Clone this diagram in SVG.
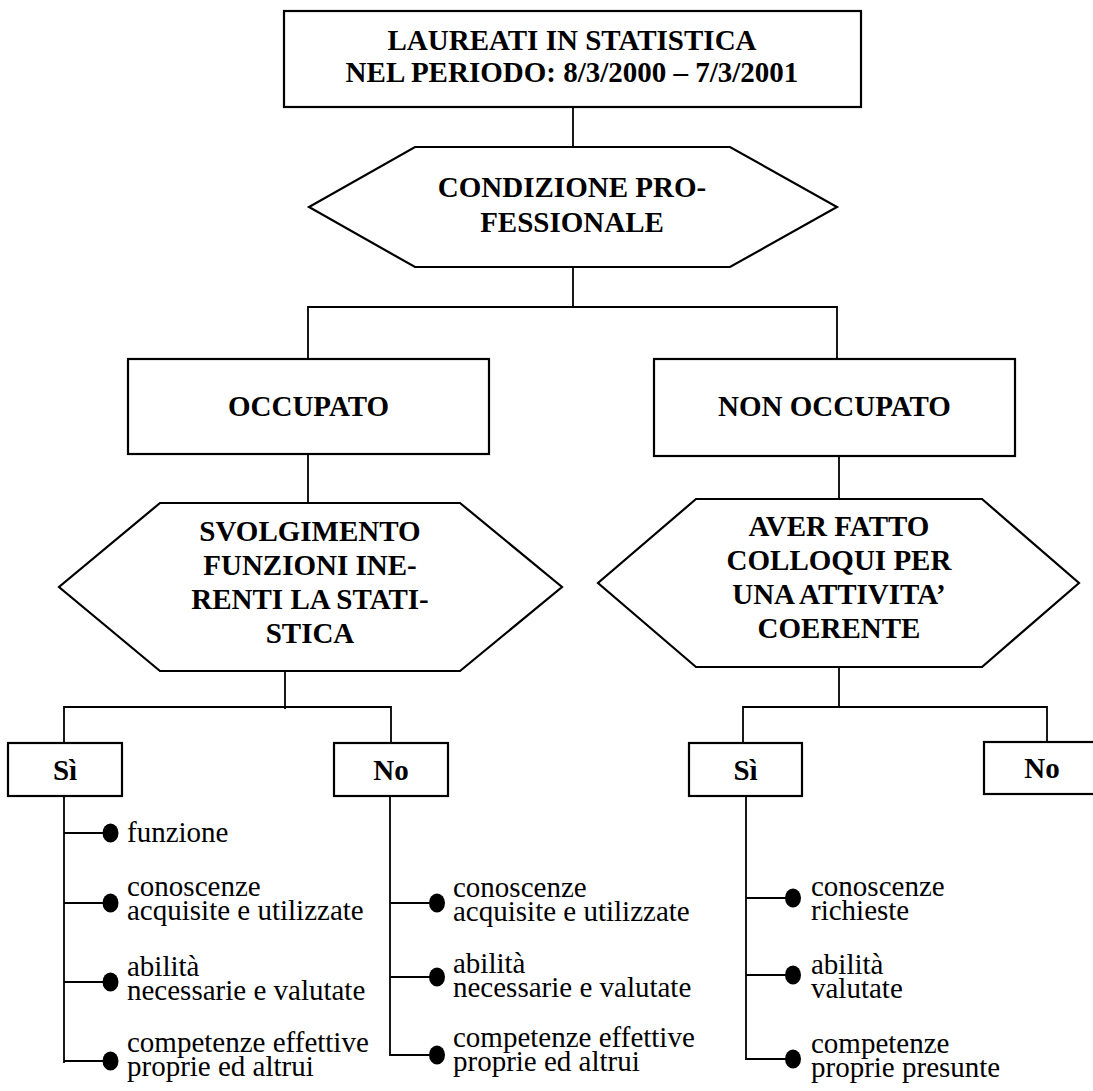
<svg xmlns="http://www.w3.org/2000/svg" width="1093" height="1091" viewBox="0 0 1093 1091">
<style>
.shape{fill:#fff;stroke:#000;stroke-width:2.2}
.conn line,.conn polyline{stroke:#000;stroke-width:1.8;fill:none}
.h{font-family:"Liberation Serif","Times New Roman",serif;font-weight:bold;font-size:29px;text-anchor:middle;fill:#000}
.t{font-family:"Liberation Serif","Times New Roman",serif;font-size:29px;fill:#000}
.dot{fill:#000}
</style>
<rect x="0" y="0" width="1093" height="1091" fill="#fff"/>
<g id="connectors" class="conn">
<line x1="573" y1="107" x2="573" y2="147"/>
<line x1="573" y1="267" x2="573" y2="307"/>
<polyline points="308,359 308,307 837,307 837,359"/>
<line x1="308" y1="454" x2="308" y2="503"/>
<line x1="839" y1="456" x2="839" y2="499"/>
<line x1="285" y1="671" x2="285" y2="709"/>
<polyline points="64,743 64,707 391,707 391,743"/>
<line x1="839" y1="667" x2="839" y2="707"/>
<polyline points="743,743 743,707 1047,707 1047,742"/>
<line x1="64" y1="796" x2="64" y2="1063"/>
<line x1="64" y1="833" x2="106" y2="833"/>
<line x1="64" y1="903" x2="106" y2="903"/>
<line x1="64" y1="982" x2="106" y2="982"/>
<line x1="64" y1="1061" x2="106" y2="1061"/>
<polyline points="390,796 390,1055 433,1055"/>
<line x1="390" y1="903" x2="433" y2="903"/>
<line x1="390" y1="977" x2="433" y2="977"/>
<polyline points="746,796 746,1059 789,1059"/>
<line x1="746" y1="898" x2="789" y2="898"/>
<line x1="746" y1="975" x2="789" y2="975"/>
</g>
<g id="n-laureati">
<rect class="shape" x="284" y="11" width="577" height="96"/>
<text class="h" x="572" y="50">LAUREATI IN STATISTICA</text>
<text class="h" x="572" y="82">NEL PERIODO: 8/3/2000 – 7/3/2001</text>
</g>
<g id="n-condizione">
<polygon class="shape" points="415,147 730,147 837,207 730,267 415,267 309,207"/>
<text class="h" x="572" y="197">CONDIZIONE PRO-</text>
<text class="h" x="572" y="232">FESSIONALE</text>
</g>
<g id="n-occupato">
<rect class="shape" x="128" y="359" width="361" height="95"/>
<text class="h" x="308.5" y="416">OCCUPATO</text>
</g>
<g id="n-nonoccupato">
<rect class="shape" x="654" y="359" width="361" height="97"/>
<text class="h" x="834.5" y="416">NON OCCUPATO</text>
</g>
<g id="n-svolgimento">
<polygon class="shape" points="160,503 460,503 562,587 460,671 160,671 59,587"/>
<text class="h" x="310" y="541">SVOLGIMENTO</text>
<text class="h" x="310" y="575">FUNZIONI INE-</text>
<text class="h" x="310" y="609">RENTI LA STATI-</text>
<text class="h" x="310" y="643">STICA</text>
</g>
<g id="n-colloqui">
<polygon class="shape" points="696,499 982,499 1079,583 982,667 696,667 598,583"/>
<text class="h" x="839" y="536">AVER FATTO</text>
<text class="h" x="839" y="570">COLLOQUI PER</text>
<text class="h" x="839" y="604">UNA ATTIVITA’</text>
<text class="h" x="839" y="638">COERENTE</text>
</g>
<g id="n-si-occ">
<rect class="shape" x="8" y="743" width="114" height="53"/>
<text class="h" x="65" y="780">Sì</text>
</g>
<g id="n-no-occ">
<rect class="shape" x="334" y="743" width="114" height="53"/>
<text class="h" x="391" y="780">No</text>
</g>
<g id="n-si-non">
<rect class="shape" x="689" y="743" width="113" height="53"/>
<text class="h" x="745.5" y="780">Sì</text>
</g>
<g id="n-no-non">
<rect class="shape" x="984" y="742" width="120" height="52"/>
<text class="h" x="1042" y="778">No</text>
</g>
<g id="n-list-si-occ">
<ellipse class="dot" cx="110.5" cy="833" rx="8" ry="9.5"/>
<text class="t" x="127" y="842">funzione</text>
<ellipse class="dot" cx="110.5" cy="903" rx="8" ry="9.5"/>
<text class="t" x="127" y="896">conoscenze</text>
<text class="t" x="127" y="920">acquisite e utilizzate</text>
<ellipse class="dot" cx="110.5" cy="982" rx="8" ry="9.5"/>
<text class="t" x="127" y="976">abilità</text>
<text class="t" x="127" y="1000">necessarie e valutate</text>
<ellipse class="dot" cx="110.5" cy="1061" rx="8" ry="9.5"/>
<text class="t" x="127" y="1052">competenze effettive</text>
<text class="t" x="127" y="1076">proprie ed altrui</text>
</g>
<g id="n-list-no-occ">
<ellipse class="dot" cx="437" cy="903" rx="8" ry="9.5"/>
<text class="t" x="453" y="897">conoscenze</text>
<text class="t" x="453" y="921">acquisite e utilizzate</text>
<ellipse class="dot" cx="437" cy="977" rx="8" ry="9.5"/>
<text class="t" x="453" y="973">abilità</text>
<text class="t" x="453" y="997">necessarie e valutate</text>
<ellipse class="dot" cx="437" cy="1055" rx="8" ry="9.5"/>
<text class="t" x="453" y="1047">competenze effettive</text>
<text class="t" x="453" y="1071">proprie ed altrui</text>
</g>
<g id="n-list-si-non">
<ellipse class="dot" cx="793" cy="898" rx="8" ry="9.5"/>
<text class="t" x="811" y="896">conoscenze</text>
<text class="t" x="811" y="920">richieste</text>
<ellipse class="dot" cx="793" cy="975" rx="8" ry="9.5"/>
<text class="t" x="811" y="974">abilità</text>
<text class="t" x="811" y="998">valutate</text>
<ellipse class="dot" cx="793" cy="1059" rx="8" ry="9.5"/>
<text class="t" x="811" y="1053">competenze</text>
<text class="t" x="811" y="1077">proprie presunte</text>
</g>
</svg>
